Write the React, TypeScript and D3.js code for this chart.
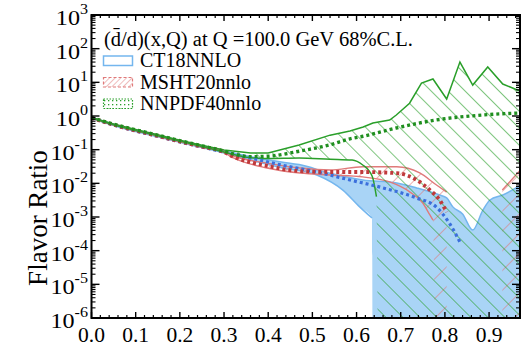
import React from "react";
import * as d3 from "d3";

// ---------- data ----------
const xTickValues = [0, 0.1, 0.2, 0.3, 0.4, 0.5, 0.6, 0.7, 0.8, 0.9];
const xTickLabels = ["0.0", "0.1", "0.2", "0.3", "0.4", "0.5", "0.6", "0.7", "0.8", "0.9"];
const yExponents = [3, 2, 1, 0, -1, -2, -3, -4, -5, -6];

const legendLabels = ["CT18NNLO", "MSHT20nnlo", "NNPDF40nnlo"];
const titleText = "(d\u0304/d)(x,Q) at Q =100.0 GeV 68%C.L.";
const yTitle = "Flavor Ratio";

// CT18NNLO
const ctCentralX = [0, 0.05, 0.1, 0.15, 0.2, 0.25, 0.3, 0.36, 0.43, 0.51, 0.585, 0.66, 0.735, 0.78, 0.81, 0.835];
const ctCentral = [0.88, 0.54, 0.36, 0.25, 0.17, 0.12, 0.085, 0.057, 0.035, 0.0217, 0.0126, 0.0073, 0.0037, 0.002, 0.00066, 0.00017];
const ctUpperX = [0, 0.05, 0.1, 0.15, 0.2, 0.25, 0.3, 0.36, 0.43, 0.47, 0.54, 0.614, 0.691, 0.736, 0.788, 0.804, 0.818, 0.84, 0.863, 0.886, 0.902, 0.931, 0.97];
const ctUpper = [0.92, 0.57, 0.385, 0.27, 0.185, 0.13, 0.092, 0.062, 0.043, 0.036, 0.02, 0.0126, 0.0102, 0.0073, 0.0045, 0.0037, 0.002, 0.00123, 0.00041, 0.0016, 0.0032, 0.0045, 0.0085];
const ctLowerX = [0, 0.05, 0.1, 0.15, 0.2, 0.25, 0.3, 0.36, 0.433, 0.51, 0.569, 0.607, 0.635, 0.637, 0.97];
const ctLower = [0.86, 0.52, 0.345, 0.24, 0.165, 0.115, 0.08, 0.049, 0.0286, 0.0177, 0.0063, 0.002, 0.00093, 1e-9, 1e-9];

// MSHT20nnlo
const msCentralX = [0, 0.05, 0.1, 0.15, 0.2, 0.25, 0.3, 0.32, 0.397, 0.472, 0.54, 0.614, 0.691, 0.736, 0.766, 0.788, 0.804];
const msCentral = [0.88, 0.55, 0.37, 0.255, 0.175, 0.122, 0.085, 0.063, 0.033, 0.023, 0.0217, 0.0217, 0.02, 0.0126, 0.0063, 0.0032, 0.0014];
const msUpperX = [0, 0.05, 0.1, 0.15, 0.2, 0.25, 0.3, 0.32, 0.397, 0.472, 0.54, 0.614, 0.691, 0.743, 0.781, 0.804];
const msUpper = [0.9, 0.56, 0.38, 0.26, 0.18, 0.125, 0.088, 0.066, 0.04, 0.0286, 0.025, 0.031, 0.031, 0.0203, 0.0089, 0.0055];
const msLowerX = [0, 0.05, 0.1, 0.15, 0.2, 0.25, 0.3, 0.32, 0.397, 0.472, 0.54, 0.614, 0.675, 0.721, 0.75, 0.766, 0.773, 0.78, 0.804];
const msLower = [0.86, 0.54, 0.36, 0.25, 0.17, 0.118, 0.082, 0.058, 0.0286, 0.0203, 0.0177, 0.0155, 0.011, 0.0055, 0.0026, 0.00115, 0.00081, 1e-9, 1e-9];
const msTailX = [0.93, 0.97];
const msTailUpper = [0.0063, 0.024];
const msTailLower = [1e-9, 1e-9];

// NNPDF40nnlo
const nnCentralX = [0, 0.05, 0.1, 0.15, 0.2, 0.25, 0.3, 0.32, 0.36, 0.4, 0.47, 0.54, 0.585, 0.615, 0.69, 0.78, 0.885, 0.97];
const nnCentral = [0.9, 0.57, 0.39, 0.27, 0.185, 0.13, 0.09, 0.075, 0.062, 0.064, 0.09, 0.14, 0.21, 0.25, 0.44, 0.76, 1.07, 1.23];
const nnUpperX = [0, 0.05, 0.1, 0.15, 0.2, 0.25, 0.3, 0.36, 0.4, 0.47, 0.54, 0.585, 0.615, 0.637, 0.675, 0.69, 0.72, 0.747, 0.773, 0.804, 0.834, 0.863, 0.897, 0.931, 0.97];
const nnUpper = [0.91, 0.58, 0.4, 0.28, 0.19, 0.135, 0.098, 0.08, 0.08, 0.138, 0.27, 0.36, 0.47, 0.62, 0.76, 1.07, 2.4, 9.5, 12.6, 3.2, 40, 8.3, 28.6, 8.9, 5.5];
const nnLowerX = [0, 0.05, 0.1, 0.15, 0.2, 0.25, 0.3, 0.36, 0.4, 0.47, 0.54, 0.59, 0.614, 0.63, 0.637, 0.645, 0.65, 0.97];
const nnLower = [0.89, 0.55, 0.37, 0.26, 0.18, 0.125, 0.085, 0.058, 0.055, 0.057, 0.052, 0.049, 0.035, 0.022, 0.014, 0.004, 1e-9, 1e-9];

// ---------- layout ----------
const W = 526;
const H = 351;
const L = 91.5;
const R = 520;
const T = 15;
const B = 318;

const BLUE_FILL = "#a9d4f6";
const BLUE_EDGE = "#74b6ee";
const BLUE_DOT = "#3b6fdc";
const RED_EDGE = "#e07a7a";
const RED_DOT = "#c0393b";
const GREEN_EDGE = "#2a9f2a";
const GREEN_DOT = "#1f8f1f";

const FONT = "'Liberation Serif', 'Times New Roman', serif";

type P = [number, number];
const zip = (xs: number[], vs: number[]): P[] => xs.map((v, i) => [v, vs[i]]);
const visible = (pts: P[]): P[] => pts.filter((p) => p[1] > 1e-7);

export default function App() {
  const x = d3.scaleLinear().domain([0, 0.97]).range([L, R]);
  const y = d3.scaleLog().domain([1e-6, 1e3]).range([B, T]);

  const smooth = d3
    .line<P>()
    .x((d) => x(d[0]))
    .y((d) => y(d[1]))
    .curve(d3.curveMonotoneX);
  const straight = d3
    .line<P>()
    .x((d) => x(d[0]))
    .y((d) => y(d[1]));

  const band = (up: P[], lo: P[], upGen = smooth, loGen = smooth) => {
    const a = upGen(up) || "";
    const b = (loGen([...lo].reverse()) || "").replace(/^M/, "L");
    return a + b + "Z";
  };

  const ctUp = zip(ctUpperX, ctUpper);
  const ctLo = zip(ctLowerX, ctLower);
  const msUp = zip(msUpperX, msUpper);
  const msLo = zip(msLowerX, msLower);
  const msTUp = zip(msTailX, msTailUpper);
  const msTLo = zip(msTailX, msTailLower);
  const nnUp = zip(nnUpperX, nnUpper);
  const nnLo = zip(nnLowerX, nnLower);

  // ticks
  const xMinor: number[] = d3.range(0, 0.971, 0.02).filter((v) => Math.abs(v * 10 - Math.round(v * 10)) > 1e-6);
  const yMinor: number[] = [];
  for (let e = -6; e < 3; e++) for (let k = 2; k <= 9; k++) yMinor.push(k * Math.pow(10, e));

  return (
    <svg
      width={W}
      height={H}
      style={{ position: "absolute", left: 0, top: 0, background: "#fff" }}
      fontFamily={FONT}
    >
      <defs>
        <clipPath id="plotClip">
          <rect x={L} y={T} width={R - L} height={B - T} />
        </clipPath>
        <pattern id="greenHatch" patternUnits="userSpaceOnUse" width={12} height={12} patternTransform="rotate(-45)">
          <line x1={0} y1={0} x2={0} y2={12} stroke={GREEN_EDGE} strokeWidth={1.2} />
        </pattern>
        <pattern id="redHatch" patternUnits="userSpaceOnUse" width={14} height={14} patternTransform="rotate(45)">
          <line x1={0} y1={0} x2={0} y2={14} stroke={RED_EDGE} strokeWidth={1.2} />
        </pattern>
        <pattern id="redHatchSmall" patternUnits="userSpaceOnUse" width={4} height={4} patternTransform="rotate(45)">
          <line x1={0} y1={0} x2={0} y2={4} stroke={RED_EDGE} strokeWidth={1} />
        </pattern>
        <pattern id="greenDots" patternUnits="userSpaceOnUse" width={4} height={4}>
          <rect x={0} y={0} width={1.3} height={1.3} fill={GREEN_EDGE} />
        </pattern>
      </defs>

      <g clipPath="url(#plotClip)">
        {/* CT18 band */}
        <path d={band(ctUp, ctLo)} fill={BLUE_FILL} stroke="none" />
        <path d={smooth(ctUp) || ""} fill="none" stroke={BLUE_EDGE} strokeWidth={1.5} />
        <path d={smooth(visible(ctLo)) || ""} fill="none" stroke={BLUE_EDGE} strokeWidth={1.5} />

        {/* MSHT band */}
        <path d={band(msUp, msLo)} fill="url(#redHatch)" stroke="none" />
        <path d={band(msTUp, msTLo, straight, straight)} fill="url(#redHatch)" stroke="none" />
        <path d={smooth(msUp) || ""} fill="none" stroke={RED_EDGE} strokeWidth={1.4} />
        <path d={smooth(visible(msLo)) || ""} fill="none" stroke={RED_EDGE} strokeWidth={1.4} />
        <path d={straight(msTUp) || ""} fill="none" stroke={RED_EDGE} strokeWidth={1.4} />

        {/* NNPDF band */}
        <path d={band(nnUp, nnLo, straight, smooth)} fill="url(#greenHatch)" stroke="none" />
        <path d={straight(nnUp) || ""} fill="none" stroke={GREEN_EDGE} strokeWidth={1.5} />
        <path d={smooth(visible(nnLo)) || ""} fill="none" stroke={GREEN_EDGE} strokeWidth={1.5} />

        {/* central values */}
        <path d={smooth(zip(ctCentralX, ctCentral)) || ""} fill="none" stroke={BLUE_DOT} strokeWidth={3.2} strokeDasharray="3 3" />
        <path d={smooth(zip(msCentralX, msCentral)) || ""} fill="none" stroke={RED_DOT} strokeWidth={3.8} strokeDasharray="3 3" />
        <path d={smooth(zip(nnCentralX, nnCentral)) || ""} fill="none" stroke={GREEN_DOT} strokeWidth={3.4} strokeDasharray="3 3" />
      </g>

      {/* frame */}
      <rect x={L} y={T} width={R - L} height={B - T} fill="none" stroke="#000" strokeWidth={2} />

      {/* x ticks */}
      {xTickValues.map((v) => (
        <g key={"xt" + v}>
          <line x1={x(v)} x2={x(v)} y1={B} y2={B - 6} stroke="#000" strokeWidth={1.4} />
          <line x1={x(v)} x2={x(v)} y1={T} y2={T + 6} stroke="#000" strokeWidth={1.4} />
        </g>
      ))}
      {xMinor.map((v) => (
        <g key={"xm" + v}>
          <line x1={x(v)} x2={x(v)} y1={B} y2={B - 3} stroke="#000" strokeWidth={1.2} />
          <line x1={x(v)} x2={x(v)} y1={T} y2={T + 3} stroke="#000" strokeWidth={1.2} />
        </g>
      ))}
      {xTickValues.map((v, i) => (
        <text key={"xl" + v} x={x(v)} y={342} fontSize={21.5} textAnchor="middle" fill="#000">
          {xTickLabels[i]}
        </text>
      ))}

      {/* y ticks */}
      {yExponents.map((e) => {
        const yy = y(Math.pow(10, e));
        return (
          <g key={"yt" + e}>
            <line x1={L} x2={L + 8} y1={yy} y2={yy} stroke="#000" strokeWidth={1.4} />
            <line x1={R} x2={R - 8} y1={yy} y2={yy} stroke="#000" strokeWidth={1.4} />
            <g transform={`translate(88,${yy + 10}) scale(1.15,1)`}>
              <text x={0} y={0} fontSize={21} textAnchor="end" fill="#000">
                <tspan>10</tspan>
                <tspan dy={-11} fontSize={14}>{e}</tspan>
              </text>
            </g>
          </g>
        );
      })}
      {yMinor.map((v, i) => {
        const yy = y(v);
        return (
          <g key={"ym" + i}>
            <line x1={L} x2={L + 4} y1={yy} y2={yy} stroke="#000" strokeWidth={1.1} />
            <line x1={R} x2={R - 4} y1={yy} y2={yy} stroke="#000" strokeWidth={1.1} />
          </g>
        );
      })}

      {/* y title */}
      <text transform="translate(47,218) rotate(-90)" fontSize={27} textAnchor="middle" fill="#000">
        {yTitle}
      </text>

      {/* title + legend */}
      <text x={104} y={46} fontSize={20.5} fill="#000">
        {titleText}
      </text>
      <rect x={103.5} y={56} width={29} height={9.5} fill="#fff" stroke={BLUE_EDGE} strokeWidth={1.5} />
      <rect x={103.5} y={77.5} width={29} height={9.5} fill="url(#redHatchSmall)" stroke={RED_EDGE} strokeWidth={1.2} strokeDasharray="3 2" />
      <rect x={103.5} y={99} width={29} height={9.5} fill="url(#greenDots)" stroke={GREEN_EDGE} strokeWidth={1.2} strokeDasharray="1.5 1.5" />
      {legendLabels.map((t, i) => (
        <text key={t} x={140} y={67 + i * 21.7} fontSize={20} fill="#000">
          {t}
        </text>
      ))}
    </svg>
  );
}
